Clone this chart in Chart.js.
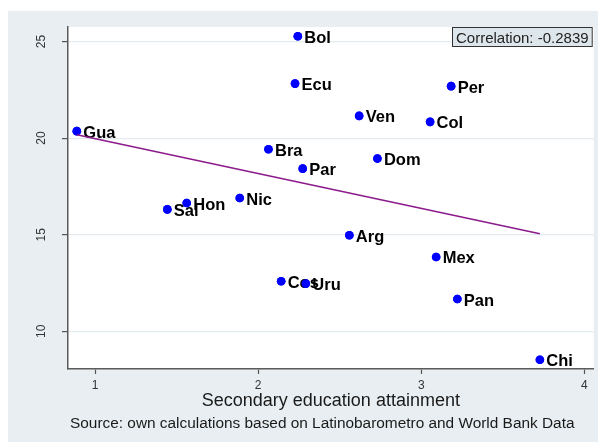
<!DOCTYPE html>
<html>
<head>
<meta charset="utf-8">
<script src="https://cdn.jsdelivr.net/npm/chart.js@4"></script>
<style>
  html, body { margin: 0; padding: 0; background: #ffffff; }
  canvas { display: block; }
</style>
</head>
<body>
<canvas id="chart" width="598" height="442"></canvas>
<script>
// Country codes, drawn in this order (marker then label, one after another)
const countries  = ['Gua', 'Sal', 'Hon', 'Nic', 'Bra', 'Cos', 'Uru', 'Par', 'Ecu',
                    'Bol', 'Arg', 'Ven', 'Dom', 'Col', 'Mex', 'Per', 'Pan', 'Chi'];
// Secondary education attainment (x)
const attainment = [0.888, 1.443, 1.562, 1.887, 2.063, 2.141, 2.292, 2.273, 2.226,
                    2.243, 2.559, 2.619, 2.731, 3.054, 3.091, 3.183, 3.221, 3.727];
// Outcome variable (y)
const outcome    = [20.36, 16.31, 16.64, 16.90, 19.42, 12.59, 12.47, 18.42, 22.82,
                    25.27, 14.97, 21.15, 18.94, 20.84, 13.85, 22.69, 11.67, 8.53];
// Linear fit end points
const fitX = [0.888, 3.727];
const fitY = [20.17, 15.05];
// Axis ticks
const xTicks = [1, 2, 3, 4];
const yTicks = [10, 15, 20, 25];
const correlation = '-0.2839';
const sourceNote = 'Source: own calculations based on Latinobarometro and World Bank Data';

const FONT = '"Liberation Sans", Arial, sans-serif';

const scatterPoints = attainment.map((x, i) => ({ x: x, y: outcome[i] }));
const fitPoints = fitX.map((x, i) => ({ x: x, y: fitY[i] }));

// Graph region / plot region backgrounds
const backgroundPlugin = {
  id: 'backgrounds',
  beforeDraw(chart) {
    const { ctx, chartArea: a } = chart;
    ctx.save();
    ctx.fillStyle = '#ffffff';
    ctx.fillRect(0, 0, chart.width, chart.height);
    ctx.fillStyle = '#e8eef1';
    ctx.fillRect(8, 11, chart.width - 8, chart.height - 11);
    ctx.fillStyle = '#ffffff';
    ctx.fillRect(a.left, a.top, a.right - a.left, a.bottom - a.top);
    ctx.restore();
  }
};

// Country labels to the right of each marker
const labelPlugin = {
  id: 'pointLabels',
  afterDatasetDraw(chart, args) {
    if (args.index !== 0) return;
    const { ctx } = chart;
    const meta = args.meta;
    meta.data.forEach((el, i) => {
      el.draw(ctx);
      ctx.save();
      ctx.font = 'bold 16.5px ' + FONT;
      ctx.fillStyle = '#000000';
      ctx.textAlign = 'left';
      ctx.textBaseline = 'alphabetic';
      ctx.fillText(countries[i], el.x + 6.5, el.y + 6.5);
      ctx.restore();
    });
  }
};

// Rotated y tick labels, correlation box and source note
const extrasPlugin = {
  id: 'extras',
  afterDraw(chart) {
    const { ctx, chartArea: a } = chart;
    const yScale = chart.scales.y;
    ctx.save();
    ctx.fillStyle = '#333333';
    ctx.font = '12px ' + FONT;
    ctx.textAlign = 'center';
    ctx.textBaseline = 'middle';
    yScale.ticks.forEach(t => {
      const py = yScale.getPixelForValue(t.value);
      ctx.save();
      ctx.translate(42, py);
      ctx.rotate(-Math.PI / 2);
      ctx.fillText(String(t.value), 0, 0);
      ctx.restore();
    });

    // correlation box
    const bx = 452, by = a.top + 0.5, bw = a.right - 2 - bx, bh = 19;
    ctx.fillStyle = '#dde6ea';
    ctx.fillRect(bx, by, bw, bh);
    ctx.strokeStyle = '#333333';
    ctx.lineWidth = 1;
    ctx.strokeRect(bx + 0.5, by, bw, bh);
    ctx.fillStyle = '#222222';
    ctx.font = '15px ' + FONT;
    ctx.textAlign = 'left';
    ctx.textBaseline = 'alphabetic';
    ctx.fillText('Correlation: ' + correlation, 456, by + 15);

    // note
    ctx.font = '15.4px ' + FONT;
    ctx.fillStyle = '#1a1a1a';
    ctx.fillText(sourceNote, 70, 428);
    ctx.restore();
  }
};

new Chart(document.getElementById('chart'), {
  type: 'scatter',
  data: {
    datasets: [
      {
        type: 'scatter',
        label: 'Countries',
        data: scatterPoints,
        backgroundColor: '#0000ff',
        borderColor: '#0000ff',
        pointRadius: 4.3,
        pointBorderWidth: 0,
        order: 1
      },
      {
        type: 'line',
        label: 'Fitted values',
        data: fitPoints,
        borderColor: '#8c1a8c',
        borderWidth: 1.5,
        pointRadius: 0,
        fill: false,
        order: 0
      }
    ]
  },
  options: {
    responsive: false,
    devicePixelRatio: 1,
    animation: false,
    layout: { padding: { top: 27, right: 4, left: 0, bottom: 0 } },
    plugins: {
      legend: { display: false },
      tooltip: { enabled: false },
      title: { display: false }
    },
    scales: {
      x: {
        type: 'linear',
        min: 0.834,
        max: 4.057,
        afterBuildTicks: s => { s.ticks = xTicks.map(v => ({ value: v })); },
        afterFit: s => { s.height = 73; },
        grid: {
          drawOnChartArea: false,
          drawTicks: true,
          tickLength: 5,
          tickColor: '#555555',
          tickWidth: 1.2
        },
        border: { display: true, color: '#5a5a5a', width: 1.5 },
        ticks: {
          color: '#333333',
          font: { family: FONT, size: 12 },
          padding: 4,
          maxRotation: 0
        },
        title: {
          display: true,
          text: 'Secondary education attainment',
          color: '#1a1a1a',
          font: { family: FONT, size: 18 },
          padding: { top: 0, bottom: 30 }
        }
      },
      y: {
        type: 'linear',
        min: 8.05,
        max: 25.75,
        afterBuildTicks: s => { s.ticks = yTicks.map(v => ({ value: v })); },
        afterFit: s => { s.width = 68; },
        grid: {
          drawOnChartArea: true,
          color: '#e4ecef',
          lineWidth: 1.2,
          drawTicks: true,
          tickLength: 6,
          tickColor: '#555555',
          tickWidth: 1.2
        },
        border: { display: true, color: '#5a5a5a', width: 1.5 },
        ticks: { display: false }
      }
    }
  },
  plugins: [backgroundPlugin, labelPlugin, extrasPlugin]
});
</script>
</body>
</html>
